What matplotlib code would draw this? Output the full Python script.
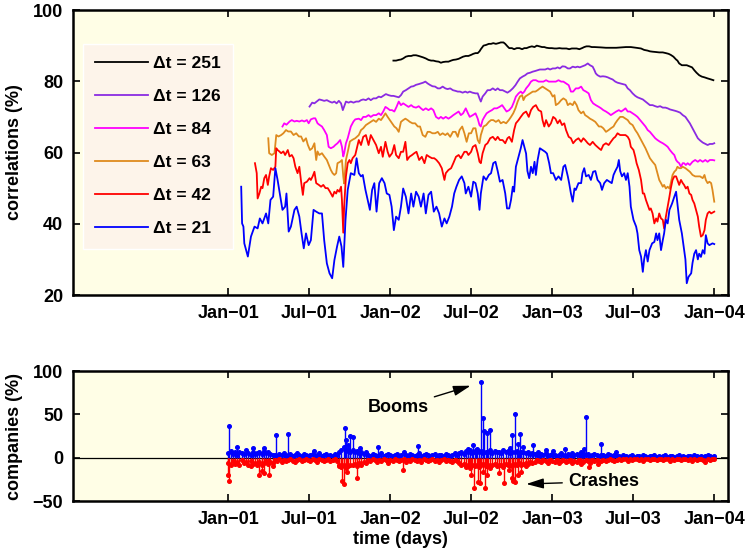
import numpy as np
import matplotlib
matplotlib.use('Agg')
import matplotlib.pyplot as plt
import matplotlib.dates as mdates

plt.rcParams['font.family'] = ['Liberation Sans', 'DejaVu Sans']
plt.rcParams['font.weight'] = 'bold'
plt.rcParams['axes.labelweight'] = 'bold'

# all days are counted from 1 Jan 2001
T0 = np.datetime64('2001-01-01')

# mean cross correlations (%) for each window length, as (day, value)
corr_251 = [(372,85.8),(378,85.8),(384,86),(389,86.1),(394,86.4),(400,86.9),(406,87.1),(412,87.1),(417,87.3),(423,87.3),
            (429,87.1),(434,86.9),(439,86.7),(445,86.4),(451,86),(457,85.8),(462,85.8),(468,85.6),(474,85.5),(479,85.2),
            (484,85.4),(490,85.5),(496,85.5),(502,85.8),(507,86),(513,86.1),(519,86.3),(524,86.6),(529,86.9),(535,87.1),
            (541,87.1),(547,87.4),(552,87.7),(557,87.9),(562,87.9),(566,88.4),(569,89),(575,90),(581,90.2),(587,90.5),
            (592,90.5),(597,90.7),(603,90.5),(609,90.7),(614,90.9),(620,90.9),(624,90.5),(629,89.8),(633,89.3),(639,89.3),
            (644,89),(650,89.3),(656,89.3),(662,89),(667,89.3),(672,89.3),(678,89.6),(684,89.8),(690,89.6),(695,90),
            (701,89.8),(707,89.6),(712,89.6),(717,89.4),(723,89.3),(729,89.3),(735,89.2),(740,89.2),(746,89.3),(752,89.2),
            (757,89.2),(762,89.2),(768,89),(774,89.2),(780,89.2),(785,89.2),(791,89),(797,89.3),(802,89.6),(807,89.8),
            (813,89.8),(819,89.6),(825,89.6),(840,89.5),(851,89.4),(862,89.4),(874,89.4),(885,89.5),(896,89.6),(907,89.6),
            (919,89.4),(930,89.2),(937,88.8),(945,88.6),(950,88.4),(956,88.3),(964,88.2),(971,88.1),(979,88.1),(986,87.9),
            (992,87.7),(997,87.4),(1003,86.9),(1009,86.1),(1012,85.8),(1016,85),(1022,84.5),(1027,84.5),(1033,84.5),(1039,84.2),
            (1045,83.9),(1050,83.1),(1055,82.4),(1061,81.7),(1067,81.3),(1073,81.1),(1080,80.8),(1088,80.5),(1093,80.3)]

corr_126 = [(183,72.9),(189,74),(194,73.8),(199,74.3),(205,74.9),(211,74.7),(216,74.5),(222,74.7),(228,74.3),(234,74),
            (239,74.3),(244,73.8),(249,74.5),(254,73.8),(258,71.9),(261,72.9),(265,74.3),(271,74),(276,74.3),(282,74),
            (288,74.3),(294,74.3),(299,74.7),(304,74.9),(310,74.7),(316,75.2),(321,74.7),(327,75.2),(333,75.2),(339,75.7),
            (344,75.5),(349,75.9),(355,76.4),(361,76.1),(367,75.9),(372,75.9),(378,75.7),(384,75.5),(389,76.1),(394,77.1),
            (400,77.5),(406,78),(412,78.5),(417,78.6),(423,79),(429,79.2),(434,79.4),(439,79.6),(444,79.9),(449,79.4),
            (454,79),(460,78.6),(466,78.5),(472,78),(477,78),(483,78.5),(489,78),(494,77.8),(500,78),(506,77.5),
            (512,77.3),(517,77.1),(522,77.1),(528,76.8),(534,77.1),(539,76.8),(544,77.1),(550,76.8),(557,76.6),(562,76.6),
            (566,75.2),(569,74.3),(573,75.7),(579,76.6),(584,77.5),(590,77.5),(596,78),(602,77.5),(607,78),(612,77.5),
            (618,77.5),(624,77.1),(629,76.8),(635,77.3),(641,78),(647,78.9),(652,79.9),(657,80.8),(663,81.3),(669,81.7),
            (674,82.2),(680,82.4),(686,82.7),(692,82.9),(697,83.1),(702,83.3),(708,83.3),(714,83.3),(720,83.6),(725,83.3),
            (731,83.6),(737,83.6),(742,83.9),(747,83.6),(753,84.2),(759,84.1),(765,83.6),(770,83.6),(776,84.1),(782,83.9),
            (787,84.1),(792,83.9),(798,84.2),(804,84.5),(810,85),(815,84.5),(821,84.1),(825,83.1),(828,82.2),(832,81.7),
            (838,81.3),(844,81.4),(850,81.3),(855,81.1),(860,80.8),(866,80.5),(872,79.9),(877,79.6),(883,79.4),(889,79.2),
            (895,79),(900,78),(905,77.5),(911,76.6),(917,75.9),(922,75.5),(928,75.2),(934,74.9),(940,74.3),(945,73.8),
            (950,73.3),(956,73.3),(962,73),(967,72.8),(973,73),(979,72.6),(985,72.6),(990,72.4),(995,72.1),(1001,71.9),
            (1007,71.7),(1012,71.5),(1018,71.2),(1024,70.5),(1030,70),(1035,69.1),(1040,68.2),(1046,66.8),(1052,65.4),(1058,64),
            (1063,63.4),(1069,62.8),(1075,62.4),(1080,62.1),(1085,62.4),(1091,62.4),(1095,62.6)]

corr_84 = [(122,67.3),(126,68.2),(131,67.8),(138,68.7),(143,69.1),(149,68.7),(154,68.9),(160,68.7),(166,69),(171,68.7),
           (177,69.1),(181,68.2),(186,69.3),(192,69.6),(196,69.6),(201,68.2),(205,67.8),(211,67.3),(216,66.3),(222,64.9),
           (226,61.6),(231,61.2),(237,61.6),(241,62.1),(246,62.6),(252,63.5),(256,61.6),(259,58.9),(261,59.8),(265,62.6),
           (269,64),(273,65.9),(276,67.3),(282,68.7),(286,69.3),(294,69.5),(299,69.1),(304,70),(310,70),(316,70.5),
           (321,70),(327,70.5),(333,70.5),(339,71),(344,70.5),(349,71.5),(354,72.8),(359,72.4),(364,71.9),(369,71.9),
           (374,71.5),(379,72.8),(384,74.3),(389,73.3),(394,73.8),(400,73.3),(406,72.8),(412,73.3),(417,72.8),(423,72.6),
           (429,73),(434,72.4),(439,71.9),(445,72.4),(451,71.9),(457,72.4),(462,71.9),(468,70),(474,69.5),(479,70),
           (484,69.5),(490,70),(496,69.5),(502,70),(507,70.5),(513,71),(519,71.5),(524,70.5),(529,71),(535,72.4),
           (540,71),(544,70),(551,70.5),(557,71),(562,69.5),(566,67.7),(569,67.3),(573,69.1),(577,70),(582,71),
           (588,71.5),(594,71.9),(599,72.4),(605,72.4),(611,72.8),(617,73.3),(622,72.4),(627,71.5),(633,71.9),(639,72.8),
           (644,74.3),(648,75.7),(654,76.6),(659,77.1),(663,76.6),(667,77.1),(671,78),(677,78.9),(682,79.9),(687,80.3),
           (693,80.3),(699,79.9),(705,79.9),(710,79.9),(716,80.3),(722,79.9),(727,79.9),(732,79.9),(738,79.9),(744,80.3),
           (750,79.9),(755,79.9),(761,79.4),(767,78.9),(772,77.1),(777,77.1),(783,78),(789,78),(795,78.5),(800,77.5),
           (806,77.1),(812,76.6),(817,74.7),(822,73.8),(828,73.3),(835,72.8),(840,72.4),(845,71.9),(851,71.5),(857,71),
           (862,70.5),(868,71),(874,71.5),(880,71.9),(885,71.5),(890,71.9),(895,72.4),(900,71.5),(905,71.5),(911,71),
           (917,70.5),(922,70),(928,69.1),(934,68.2),(940,67.3),(945,66.3),(950,65.8),(956,64.9),(962,64),(967,63.5),
           (973,63),(979,62.6),(985,62.1),(990,61.6),(995,60.7),(1001,59.8),(1005,59.3),(1009,57.9),(1012,57.4),(1016,57),
           (1020,56),(1024,57),(1027,57),(1031,56.5),(1035,57),(1040,56.5),(1046,57.4),(1052,57.9),(1058,57.4),(1063,57.9),
           (1069,57.4),(1075,57.9),(1080,57.4),(1085,57.9),(1091,57.9),(1095,57.8)]

corr_63 = [(90,64),(92,59.8),(98,59.3),(104,59.8),(108,64.9),(113,64.5),(119,64.9),(124,65.4),(130,66.3),(135,65.9),
           (141,65.9),(147,64.9),(153,65.4),(159,64.5),(164,64.5),(169,63.1),(175,64),(179,62.2),(184,60.7),(189,61.2),
           (194,62.6),(198,57.9),(201,60.3),(205,59.3),(211,59.8),(216,58.9),(222,57.9),(228,56),(231,55.1),(235,54.2),
           (239,53.7),(243,54.2),(246,57),(252,57.4),(256,57.9),(259,53.3),(261,51.3),(265,57.9),(270,60.7),(274,63.1),
           (280,63.6),(286,64),(294,64.9),(299,66.3),(304,66.8),(310,67.7),(316,68.2),(321,68.6),(327,69.1),(333,68.6),
           (339,69.5),(344,69.1),(349,70),(354,71),(359,70),(364,69.1),(369,68.2),(374,67.3),(379,66.8),(384,65.8),
           (389,68.6),(394,69.1),(399,69.5),(404,69.1),(409,68.6),(415,68.2),(421,68.2),(427,67.3),(432,67.3),(438,64.9),
           (444,64.4),(449,65.8),(454,65.8),(460,65.4),(466,65.4),(472,65.8),(477,64.9),(483,65.4),(489,64.9),(494,65.4),
           (500,64.4),(506,65.8),(512,65.8),(517,64.4),(521,66.3),(527,67.3),(532,65.4),(537,63),(542,65.4),(547,65.4),
           (552,66.8),(557,66.8),(562,63.5),(566,62.6),(569,64.9),(575,67.3),(581,67.7),(587,68.6),(592,69.1),(597,69.1),
           (603,68.6),(609,69.1),(614,68.2),(620,68.6),(626,68.2),(632,69.1),(637,70),(642,71),(647,72.4),(652,74.3),
           (657,75.7),(662,76.1),(665,74.7),(669,75.7),(674,76.1),(680,76.6),(686,77.1),(692,77.1),(697,77.5),(702,78),
           (708,78.5),(714,78),(720,77.5),(725,77.1),(731,75.7),(735,76.1),(738,73.3),(744,73.8),(750,74.7),(755,75.2),
           (761,74.7),(765,73.3),(770,73.8),(776,73.3),(780,74.3),(785,73.3),(789,71.9),(795,71),(800,71.5),(804,70.5),
           (810,70),(815,69.5),(821,69.1),(827,68.6),(835,67.3),(840,67.3),(845,66.8),(851,65.8),(857,66.3),(862,66.8),
           (868,67.3),(872,68.2),(877,69.1),(883,70),(889,70),(895,69.5),(900,69.1),(905,68.2),(911,67.7),(917,66.3),
           (922,65.4),(928,64),(934,62.6),(940,61.2),(945,59.8),(950,58.4),(956,57.4),(962,56.5),(967,54.2),(971,52.3),
           (975,51.4),(979,50.4),(982,50.9),(986,49.9),(990,50.4),(994,49.9),(997,51.4),(1001,53.7),(1005,54.6),(1009,55.1),
           (1012,56),(1016,55.6),(1020,55.6),(1024,56),(1030,55.6),(1035,55.1),(1040,54.6),(1046,53.7),(1052,53.3),(1058,53.3),
           (1063,53.3),(1069,52.8),(1073,53.7),(1076,52.3),(1080,51.4),(1084,51.8),(1088,51.4),(1091,49.5),(1095,46.2)]

corr_42 = [(60,57),(64,54.2),(66,47.1),(70,48.5),(74,50.4),(77,50),(81,52.8),(85,53.7),(89,50.9),(92,53.3),
           (96,55.6),(101,55.1),(106,56),(108,61.2),(111,60.7),(115,60.3),(119,59.8),(124,60.3),(128,59.3),(134,60.7),
           (138,58.9),(143,59.3),(147,58.4),(151,56),(156,54.2),(160,56),(164,51.8),(168,48.1),(171,51.4),(177,51.8),
           (183,52.8),(186,52.3),(190,53.3),(194,54.6),(198,51.4),(204,50.9),(209,50.4),(214,50.9),(219,50),(224,50),
           (229,49),(235,47.6),(239,49),(243,48.5),(246,49.5),(250,49),(254,50.4),(256,46.7),(259,37.5),(261,44.8),
           (265,53.3),(269,57),(273,57.9),(276,57),(280,58.4),(286,59.3),(294,63.5),(299,62.1),(304,64.4),(310,64.9),
           (316,62.1),(321,64.9),(327,63.5),(333,62.1),(339,59.8),(344,61.6),(348,58.8),(354,63),(359,60.2),(363,58.8),
           (369,59.8),(374,62.1),(378,59.3),(384,58.4),(389,60.2),(394,60.2),(399,63),(403,57.9),(408,58.8),(414,59.3),
           (419,59.8),(424,60.2),(430,57.9),(436,58.8),(442,57),(447,59.3),(453,58.8),(459,58.4),(464,58.4),(469,57.9),
           (475,57),(481,55.6),(487,52.3),(490,54.2),(496,55.1),(502,55.6),(507,57),(513,58.8),(519,59.3),(524,58.4),
           (528,59.3),(532,60.2),(537,60.2),(541,59.3),(547,60.2),(551,61.6),(557,62.1),(562,59.8),(566,57.4),(569,57),
           (573,59.8),(579,62.1),(584,62.6),(590,64),(596,64.4),(602,63.5),(607,64.4),(612,63.5),(618,63.5),(624,62.6),
           (629,64),(633,64.4),(639,63),(644,66.3),(648,68.2),(654,69.1),(659,70),(665,71),(671,71.5),(677,70),
           (682,71.9),(687,72.8),(693,73.3),(699,71.9),(705,71.5),(708,69.1),(712,67.3),(716,69.1),(722,67.3),(727,68.2),
           (732,70),(737,69.5),(742,68.2),(747,69.1),(752,67.7),(757,68.2),(761,66.3),(767,64.4),(772,64),(777,62.6),
           (783,63.5),(789,64),(795,63),(800,64),(804,63.5),(810,62.6),(815,62.1),(821,63),(827,62.1),(835,61.2),
           (840,60.7),(845,62.1),(851,62.6),(857,62.1),(862,63),(868,64),(872,64.4),(877,65.4),(883,64.9),(889,64.9),
           (895,64.9),(900,64.4),(904,63.5),(907,61.6),(913,60.7),(917,58.8),(920,57),(925,55.1),(930,52.3),(934,48.5),
           (937,48.5),(941,46.7),(945,45.3),(949,43.9),(952,44.3),(956,42.9),(960,40.1),(964,41.5),(967,40.6),(971,42.9),
           (975,41.5),(979,41.1),(982,38.7),(986,42),(990,44.8),(994,47.6),(997,49.9),(1001,52.3),(1005,53.3),(1009,53.3),
           (1012,52.3),(1016,50.9),(1020,52.3),(1024,51.4),(1027,50.9),(1031,49.9),(1035,50.4),(1039,48.5),(1043,48.1),(1046,46.7),
           (1050,45.7),(1054,43.9),(1058,42),(1061,39.2),(1065,36.4),(1069,36.8),(1073,38.2),(1076,41.1),(1080,42.9),(1084,43.4),
           (1088,42.9),(1095,43.4)]

corr_21 = [(29,50.4),(31,40.1),(34,39.2),(36,34.5),(44,30.8),(51,36.4),(59,39.2),(66,38.7),(71,41.5),(77,40.1),
           (85,42.9),(90,40.1),(95,46.7),(101,47.6),(106,55.6),(111,52.3),(116,48.5),(122,43.9),(128,44.8),(131,48.5),
           (136,37.8),(141,39.2),(149,43.9),(154,44.8),(160,42),(165,37.3),(170,33.1),(175,37.3),(181,34),(186,35.4),
           (192,43.9),(198,43.4),(205,42.9),(211,42.9),(216,35.4),(222,28.9),(228,26.1),(234,24.7),(239,29.8),(245,33.6),
           (250,36.4),(255,33.6),(259,27.9),(264,41),(269,49.5),(276,54.2),(284,53.7),(289,58.4),(294,54.2),(299,53.3),
           (303,53.7),(309,49.5),(314,46.7),(319,43.9),(324,49.5),(329,51.4),(334,43.4),(340,51.4),(346,52.8),(352,51.4),
           (357,48.5),(363,48.1),(368,44.8),(373,38.2),(378,42),(384,41.1),(389,44.8),(394,49.9),(400,47.6),(406,42.9),
           (412,48.5),(417,44.8),(423,49),(429,47.6),(434,44.8),(440,48.5),(445,42.9),(451,48.1),(457,49),(463,43.4),
           (469,44.8),(475,42.9),(481,39.2),(487,41.5),(492,40.1),(498,42),(504,44.8),(509,48.5),(514,50.4),(520,52.3),
           (526,53.3),(532,51.4),(535,48.5),(541,50.4),(547,47.6),(552,51.8),(557,51.4),(562,48.5),(566,43.9),(569,48.5),
           (575,53.3),(581,52.3),(587,53.7),(592,54.2),(597,57),(602,57.4),(607,54.8),(612,51.8),(618,52.3),(624,48.5),
           (628,44.3),(633,44.3),(637,46.7),(641,50.4),(644,49),(648,56),(654,58.8),(659,61.2),(663,63.5),(667,61.6),
           (671,59.7),(674,54.8),(678,52.8),(682,56),(686,54.2),(690,57.4),(693,53.7),(697,57.9),(702,61.2),(708,60.7),
           (714,60.2),(718,59.7),(723,57),(727,54.2),(732,54.2),(738,52.3),(744,53.3),(750,52.3),(755,56),(759,56.5),
           (765,53.3),(768,51.4),(772,48.5),(776,46.2),(780,49.9),(783,49.5),(789,51.4),(795,51.4),(798,54.2),(802,55.6),
           (806,53.3),(812,53.7),(817,52.3),(822,54.6),(827,54.8),(832,52.3),(838,51.4),(842,49.5),(847,51.4),(853,52.3),
           (859,51.8),(864,51.4),(868,53.7),(872,54.8),(877,56),(880,57.9),(883,54.8),(887,53.3),(892,54.2),(896,52.3),
           (900,54.2),(904,50.4),(907,44.8),(913,41.1),(919,39.2),(922,37.3),(926,32.6),(930,30.8),(934,26.5),(937,30),
           (941,32.6),(945,29.4),(949,32.6),(955,34.5),(960,34.9),(964,37.3),(967,35.4),(971,37.3),(975,32.6),(979,35.4),
           (982,37.3),(986,41.1),(990,40.1),(994,43.9),(1000,45.7),(1005,47.6),(1009,49),(1012,45.7),(1016,41.1),(1022,37.3),
           (1026,33.6),(1030,30),(1033,23.3),(1037,25.1),(1043,26.1),(1046,29),(1050,31.6),(1054,32.6),(1058,30),(1061,31.6),
           (1065,30.7),(1069,32.6),(1073,31.6),(1076,36.8),(1080,34.5),(1084,34),(1091,34.5),(1095,34.3)]

windows = [251, 126, 84, 63, 42, 21]
colors = ['black', '#8a2be2', '#ff00ff', '#de8a1e', '#ff0000', '#0000ff']
series = [corr_251, corr_126, corr_84, corr_63, corr_42, corr_21]

# share of companies (%) booming / crashing: a background level every 5 days
# plus the big individual days
boom_level = [5,8,4,6,3,7,5,4,9,5,3,6,4,5,7,4,8,5,6,4,3,
              3,2,4,3,5,2,3,4,2,3,5,3,2,4,3,2,3,4,2,3,5,2,3,4,2,3,2,4,3,
              6,9,12,8,10,7,9,6,8,5,7,4,6,
              3,2,4,3,2,3,5,2,3,4,3,2,3,4,2,3,6,3,2,4,3,2,3,5,2,3,4,3,2,3,4,2,3,3,2,4,3,2,3,5,3,
              5,7,4,8,6,9,5,7,10,6,8,5,7,6,9,5,8,6,7,5,9,6,8,5,7,6,8,5,6,7,5,6,4,5,4,
              3,2,4,3,5,2,3,4,3,2,3,5,3,2,4,3,2,3,4,3,2,5,3,4,2,3,4,3,2,3,3,2,4,3,2,3,2,
              2,1,3,2,1,2,3,1,2,2,1,3,2,1,2,2,3,1,2,1,2,3,1,2,2,1,2,3,1,2,1,2,2,1,3,2,1,2,1,2,3,2,1,2]
crash_level = [-6,-9,-4,-7,-5,-8,-3,-6,-5,-9,-4,-7,-6,-8,-5,-9,-6,-4,-7,-5,-6,
               -3,-4,-2,-5,-3,-4,-3,-2,-4,-5,-3,-2,-4,-3,-2,-3,-4,-2,-3,-5,-2,-3,-4,-3,-2,-4,-3,-2,-4,
               -8,-11,-9,-12,-10,-8,-9,-7,-10,-6,-8,-5,-6,
               -3,-4,-2,-3,-5,-3,-4,-2,-3,-6,-3,-4,-2,-3,-4,-3,-2,-5,-3,-4,-2,-3,-4,-3,-5,-2,-3,-4,-3,-2,-4,-3,-5,-3,-2,-4,-3,-4,-5,-3,-4,
               -6,-9,-7,-11,-8,-12,-9,-10,-8,-11,-9,-7,-10,-8,-12,-9,-7,-10,-8,-9,-11,-7,-9,-8,-10,-7,-9,-6,-8,-7,-6,-7,-5,-6,-5,
               -3,-4,-5,-3,-4,-6,-3,-4,-5,-3,-6,-4,-3,-5,-4,-3,-6,-4,-5,-3,-4,-5,-3,-4,-6,-3,-4,-3,-5,-4,-3,-4,-3,-2,-3,-4,-3,
               -2,-3,-1,-2,-4,-2,-3,-1,-2,-3,-2,-4,-1,-2,-3,-2,-1,-3,-2,-2,-3,-1,-2,-4,-2,-3,-1,-2,-3,-2,-1,-3,-2,-4,-2,-3,-1,-2,-3,-5,-2,-3,-2,-2]

boom_peaks = [(2,36.5),(20,12.9),(56,11.4),(80,11),(107,26.4),(135,27.4),(193,8),(262,34.1),(266,20.6),(270,15),
              (274,24.5),(282,23.4),(297,11.4),(338,11.8),(428,13.7),(539,10.3),(551,15),(558,9),(569,87.4),(573,45.6),
              (577,30.3),(584,28.4),(590,32),(635,11.4),(640,26.4),(647,50.4),(652,15.4),(658,27.4),(663,12.9),(687,14.8),
              (697,7),(716,9),(731,8),(759,10.3),(774,5.3),(794,7),(801,10.3),(805,46.8),(840,15.6),(874,6.4)]
crash_peaks = [(0,-19.7),(2,-27.4),(50,-10),(69,-20.3),(77,-15.9),(80,-18),(92,-20.5),(101,-10),(249,-10),(257,-27.4),
               (261,-30),(267,-16),(289,-23.2),(393,-14),(543,-10),(547,-19.7),(554,-35),(562,-27.5),(567,-29.3),(573,-16),
               (578,-35),(583,-19.7),(611,-17.8),(622,-29.3),(633,-14),(639,-23.6),(642,-27),(647,-28.4),(652,-19.7),(659,-16),
               (671,-10),(795,-7.4),(812,-11.3),(833,-7.4)]

tick_dates = ['2001-01-01', '2001-07-01', '2002-01-01', '2002-07-01',
              '2003-01-01', '2003-07-01', '2004-01-01']
tick_labels = ['Jan\u221201', 'Jul\u221201', 'Jan\u221202', 'Jul\u221202',
               'Jan\u221203', 'Jul\u221203', 'Jan\u221204']

FS = 13


def to_dates(days):
    return T0 + np.asarray(days, dtype='int64').astype('timedelta64[D]')


def day_num(day):
    # matplotlib date number of a single day offset
    return mdates.date2num(to_dates([day])[0])


def split(pairs):
    days, vals = zip(*pairs)
    return to_dates(days), np.array(vals, dtype=float)


def style_axes(ax):
    ax.set_facecolor('#fffee6')
    ax.set_xlim(T0 - np.timedelta64(350, 'D'), T0 + np.timedelta64(1126, 'D'))
    ax.set_xticks(np.array(tick_dates, dtype='datetime64[D]'))
    ax.set_xticklabels(tick_labels)
    ax.tick_params(direction='in', top=True, right=True, length=5, width=1.2,
                   labelsize=FS, pad=7)
    for sp in ax.spines.values():
        sp.set_linewidth(1.8)


fig = plt.figure(figsize=(7.45, 5.56), dpi=100)
ax1 = fig.add_axes([0.098, 0.4694, 0.8792, 0.5126])
ax2 = fig.add_axes([0.098, 0.0989, 0.8792, 0.2338])

# top panel: correlation curves
for w, c, s in zip(windows, colors, series):
    d, v = split(s)
    ax1.plot(d, v, color=c, lw=1.3, label='\u0394t = %d' % w)

style_axes(ax1)
ax1.set_ylim(20, 100)
ax1.set_yticks([20, 40, 60, 80, 100])
ax1.set_ylabel('correlations (%)', fontsize=FS, labelpad=7)

leg = ax1.legend(loc='upper left', bbox_to_anchor=(0.0153, 0.881), borderaxespad=0,
                 fancybox=False, framealpha=1, facecolor='#fdf4ea', edgecolor='white',
                 handlelength=3.05, handletextpad=0.3, labelspacing=1.03, borderpad=0.7,
                 prop={'weight': 'bold', 'size': 12.5})
leg.get_frame().set_linewidth(1.0)

# bottom panel: booms and crashes
level_days = np.arange(len(boom_level)) * 5
b_days = np.concatenate([level_days, [p[0] for p in boom_peaks]])
b_vals = np.concatenate([boom_level, [p[1] for p in boom_peaks]])
c_days = np.concatenate([np.arange(len(crash_level)) * 5, [p[0] for p in crash_peaks]])
c_vals = np.concatenate([crash_level, [p[1] for p in crash_peaks]])

ax2.axhline(0, color='black', lw=0.9, zorder=1)
bd = to_dates(b_days)
cd = to_dates(c_days)
ax2.vlines(bd, 0, b_vals, color='#0000ff', lw=1.0, zorder=2)
ax2.plot(bd, b_vals, 'o', color='#0000ff', ms=2.6, zorder=2)
ax2.vlines(cd, 0, c_vals, color='#ff0000', lw=1.0, zorder=3)
ax2.plot(cd, c_vals, 'o', color='#ff0000', ms=2.6, zorder=3)

style_axes(ax2)
ax2.set_ylim(-50, 100)
ax2.set_yticks([-50, 0, 50, 100])
ax2.set_ylabel('companies (%)', fontsize=FS, labelpad=7)
ax2.set_xlabel('time (days)', fontsize=FS, labelpad=2)

arrow = dict(arrowstyle='-|>,head_length=0.75,head_width=0.22', color='black',
             lw=1.0, mutation_scale=14)
ax2.annotate('Booms', xy=(day_num(552), 84), xytext=(day_num(452), 57.5),
             fontsize=FS, ha='right', va='center', arrowprops=arrow)
ax2.annotate('Crashes', xy=(day_num(665), -30.5), xytext=(day_num(765), -27.5),
             fontsize=FS, ha='left', va='center', arrowprops=arrow)

fig.savefig('out.png', dpi=100)
